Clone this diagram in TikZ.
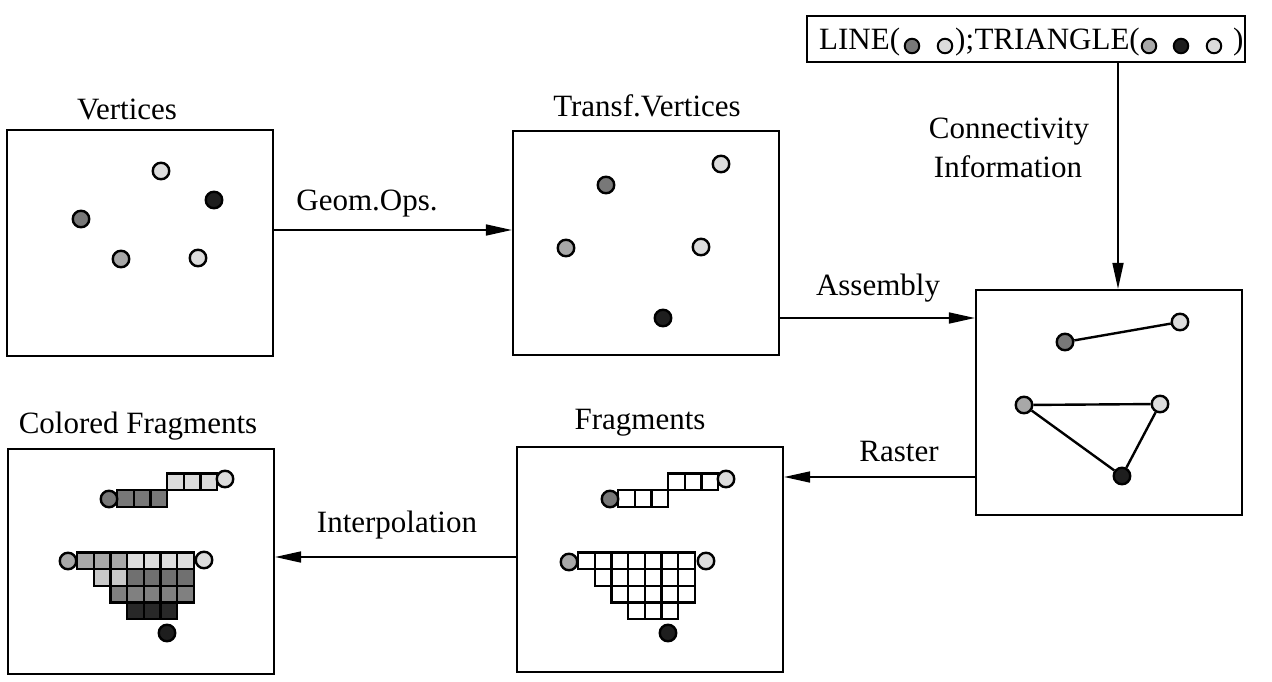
\documentclass[tikz,border=0pt]{standalone}
\usepackage{fontspec}
\setmainfont{Liberation Serif}
\usetikzlibrary{arrows.meta}
\definecolor{lgray}{HTML}{DCDCDC}
\definecolor{mgray}{HTML}{A8A8A8}
\definecolor{dgray}{HTML}{787878}
\definecolor{bk}{HTML}{1E1E1E}
\definecolor{cA}{HTML}{C8C8C8}
\definecolor{cB}{HTML}{707070}
\definecolor{cC}{HTML}{808080}
\definecolor{cD}{HTML}{282828}
\newcommand\cellrow[3]{\foreach \cc [count=\k from 0] in {#3} {\draw[cellsty, fill=\cc] ({#1+\k*16.7},{#2}) rectangle ++(16.7,16.7);}}
\begin{document}
\begin{tikzpicture}[x=1pt,y=-1pt,
  font=\fontsize{31}{37}\selectfont,
  box/.style={draw, line width=2.2pt, rectangle, inner sep=0pt, minimum width=266pt},
  lbl/.style={anchor=base, inner sep=0pt},
  dot/.style={circle, draw, line width=2.4pt, inner sep=0pt, minimum size=16.5pt},
  sdot/.style={circle, draw, line width=2pt, inner sep=0pt, minimum size=14.5pt},
  arr/.style={line width=1.7pt, -{Triangle[length=26pt,width=11pt]}},
  edge/.style={line width=2.4pt},
  cellsty/.style={draw, line width=2.3pt}]
\useasboundingbox (0,0) rectangle (1272,682);
\fill[white] (0,0) rectangle (1272,682);

% boxes
\node[box, minimum height=226pt] (v) at (140,243) {};
\node[box, minimum height=224pt] (t) at (646,243) {};
\node[box, minimum height=225pt] (a) at (1109,402.5) {};
\node[box, minimum height=225pt] (f) at (650,559.5) {};
\node[box, minimum height=225pt] (cf) at (141,561.5) {};
\node[draw, line width=2.2pt, rectangle, inner sep=0pt, minimum width=438pt, minimum height=46pt] (c) at (1026,39) {};

% top box content
\node[lbl, anchor=base west] (tl1) at (819,50) {LINE(};
\node[sdot, fill=dgray] (d1) at (912,46) {};
\node[sdot, fill=lgray] (d2) at (945,46) {};
\node[lbl, anchor=base west] (tl2) at (955,50) {);};
\node[lbl, anchor=base east] (tl3) at (1140,50) {TRIANGLE(};
\node[sdot, fill=mgray] (d3) at (1149,46) {};
\node[sdot, fill=bk] (d4) at (1181,46) {};
\node[sdot, fill=lgray] (d5) at (1214,46) {};
\node[lbl, anchor=base west] (tl4) at (1233,50) {)};

% labels
\node[lbl] (l1) at (127,120) {Vertices};
\node[lbl] (l2) at (647,117) {Transf.Vertices};
\node[lbl] (l3) at (367,210) {Geom.Ops.};
\node[lbl] (l4) at (878,295) {Assembly};
\node[lbl] (l5) at (1009,139) {Connectivity};
\node[lbl] (l6) at (1008,178) {Information};
\node[lbl] (l7) at (899,461) {Raster};
\node[lbl] (l8) at (640,429) {Fragments};
\node[lbl] (l9) at (138,433) {Colored Fragments};
\node[lbl] (l10) at (397,532) {Interpolation};

% connectors
\draw[arr] ([yshift=13pt]v.east) -- ([yshift=13pt]v.east -| t.west);
\draw[arr] ([yshift=-75pt]t.east) -- ([yshift=-75pt]t.east -| a.west);
\draw[arr] ([xshift=92pt]c.south) -- ([xshift=92pt]c.south |- a.north);
\draw[arr] ([yshift=-74.5pt]a.west) -- ([yshift=-74.5pt]a.west -| f.east);
\draw[arr] ([yshift=2.5pt]f.west) -- ([yshift=2.5pt]f.west -| cf.east);

% vertices
\node[dot, fill=lgray] (v1) at (161,171) {};
\node[dot, fill=bk] (v2) at (214,200) {};
\node[dot, fill=dgray] (v3) at (81,219) {};
\node[dot, fill=mgray] (v4) at (121,259) {};
\node[dot, fill=lgray] (v5) at (198,258) {};

% transformed vertices
\node[dot, fill=lgray] (t1) at (721,164) {};
\node[dot, fill=dgray] (t2) at (606,185) {};
\node[dot, fill=mgray] (t3) at (566,248) {};
\node[dot, fill=lgray] (t4) at (701,247) {};
\node[dot, fill=bk] (t5) at (663,318) {};

% assembly
\node[dot, fill=dgray] (a1) at (1065,342) {};
\node[dot, fill=lgray] (a2) at (1180,322) {};
\node[dot, fill=mgray] (a3) at (1024,405) {};
\node[dot, fill=lgray] (a4) at (1160,404) {};
\node[dot, fill=bk] (a5) at (1122,476) {};
\draw[edge] (a1) -- (a2);
\draw[edge] (a3) -- (a4) -- (a5) -- (a3);

% fragments
\cellrow{618}{490.3}{white,white,white}
\cellrow{668}{473.6}{white,white,white}
\cellrow{578}{552.5}{white,white,white,white,white,white,white}
\cellrow{594.7}{569.2}{white,white,white,white,white,white}
\cellrow{611.4}{585.9}{white,white,white,white,white}
\cellrow{628.1}{602.6}{white,white,white}
\node[dot, fill=dgray] (f1) at (610,499) {};
\node[dot, fill=lgray] (f2) at (726,479) {};
\node[dot, fill=mgray] (f3) at (569,562) {};
\node[dot, fill=lgray] (f4) at (706,561) {};
\node[dot, fill=bk] (f5) at (668,633) {};

% colored fragments
\cellrow{117}{490.3}{dgray,dgray,dgray}
\cellrow{167}{473.6}{lgray,lgray,lgray}
\cellrow{77}{552.5}{mgray,mgray,mgray,lgray,lgray,lgray,lgray}
\cellrow{93.7}{569.2}{cA,cA,cB,cB,cB,cB}
\cellrow{110.4}{585.9}{cC,cC,cC,cC,cC}
\cellrow{127.1}{602.6}{cD,cD,cD}
\node[dot, fill=dgray] (g1) at (109,499) {};
\node[dot, fill=lgray] (g2) at (225,479) {};
\node[dot, fill=mgray] (g3) at (68,561) {};
\node[dot, fill=lgray] (g4) at (204,560) {};
\node[dot, fill=bk] (g5) at (167,633) {};
\end{tikzpicture}
\end{document}
